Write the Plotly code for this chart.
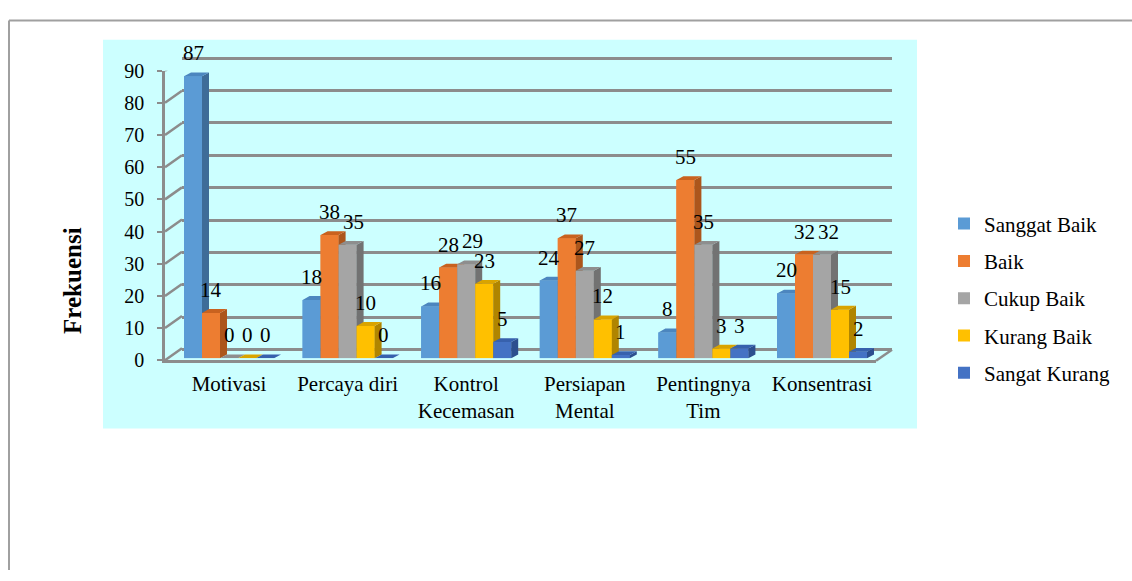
import plotly.graph_objects as go

# ---------------- data ----------------
categories = ["Motivasi", "Percaya diri", "Kontrol<br>Kecemasan", "Persiapan<br>Mental",
              "Pentingnya<br>Tim", "Konsentrasi"]
series_names = ["Sanggat Baik", "Baik", "Cukup Baik", "Kurang Baik", "Sangat Kurang"]
sanggat_baik = [87, 18, 16, 24, 8, 20]
baik = [14, 38, 28, 37, 55, 32]
cukup_baik = [0, 35, 29, 27, 35, 32]
kurang_baik = [0, 10, 23, 12, 3, 15]
sangat_kurang = [0, 0, 5, 1, 3, 2]
y_ticks = [0, 10, 20, 30, 40, 50, 60, 70, 80, 90]
axis_title = "Frekuensi"

series_values = [sanggat_baik, baik, cukup_baik, kurang_baik, sangat_kurang]

# ---------------- style ----------------
front_colors = ["#5B9BD5", "#ED7D31", "#A5A5A5", "#FFC000", "#4472C4"]
side_colors = ["#3E6C98", "#AC561C", "#727272", "#B08500", "#2C4F8E"]
top_colors = ["#4C86BF", "#C9621F", "#8E8E8E", "#D9A400", "#3761AD"]
FONT = "Times New Roman, Liberation Serif, serif"
GRID = "#8C8C8C"

W, H = 1132, 581
def px(x):
    return x / W
def py(y):
    return 1 - y / H

CAT_PX = 118.6           # pixel width of one category on the bar axis
BW = 18 / CAT_PX         # bar width (category units)
DX = 7 / CAT_PX          # depth offset x (category units)
BAR_SCALE = 3.37         # px per unit on bar axis
DY = 4 / BAR_SCALE       # depth offset y (value units)
LABEL_SIZE = 21
DIGIT_W = 0.5 * LABEL_SIZE   # approx digit width in px
LABEL_H = 20                  # approx label height in px

fig = go.Figure()

idx = list(range(len(categories)))

# real bar traces (front faces + legend)
for j, (name, vals) in enumerate(zip(series_names, series_values)):
    fig.add_trace(go.Bar(
        x=idx, y=vals, name=name, width=BW, offset=(j - 2.5) * BW,
        marker=dict(color=front_colors[j], line=dict(width=0)),
        xaxis="x2", yaxis="y2", legendgroup=name,
    ))

# 3D faces drawn in painter's order
for j, (name, vals) in enumerate(zip(series_names, series_values)):
    fx, fy, sx, sy, tx, ty = [], [], [], [], [], []
    for i, v in zip(idx, vals):
        L = i + (j - 2.5) * BW
        R = L + BW
        fx += [L, R, R, L, L, None]
        fy += [0, 0, v, v, 0, None]
        sx += [R, R + DX, R + DX, R, R, None]
        sy += [0, DY, v + DY, v, 0, None]
        tx += [L, R, R + DX, L + DX, L, None]
        ty += [v, v, v + DY, v + DY, v, None]
    for xs, ys, col in ((fx, fy, front_colors[j]), (sx, sy, side_colors[j]), (tx, ty, top_colors[j])):
        fig.add_trace(go.Scatter(
            x=xs, y=ys, mode="lines", fill="toself", fillcolor=col,
            line=dict(width=0, color=col), showlegend=False, hoverinfo="skip",
            xaxis="x2", yaxis="y2",
        ))

# invisible traces so that wall / front subplots exist
fig.add_trace(go.Scatter(x=[None], y=[None], xaxis="x", yaxis="y", showlegend=False))
fig.add_trace(go.Scatter(x=[None], y=[None], xaxis="x3", yaxis="y3", showlegend=False))

# value labels (with simple overlap avoidance inside each group)
annotations = []
for i in idx:
    prev = None  # (center_px_offset, width_px, value)
    for j, vals in enumerate(series_values):
        v = vals[i]
        txt = str(v)
        w = DIGIT_W * len(txt)
        base = j * CAT_PX * BW  # relative pixel position of bar centre within the group
        shift = 0.0
        if prev is not None:
            pc, pw, pv = prev
            if abs((v - pv) * BAR_SCALE) < LABEL_H:
                need = (pw + w) / 2 + 3 - (base - pc)
                if need > 0:
                    shift = need
        prev = (base + shift, w, v)
        annotations.append(dict(
            x=i + (j - 2) * BW, y=v, xref="x2", yref="y2", text=txt,
            showarrow=False, yshift=23, xshift=shift,
            font=dict(family=FONT, size=LABEL_SIZE, color="#000000"),
        ))

annotations.append(dict(
    x=px(57), y=py(280), xref="paper", yref="paper", text="<b>%s</b>" % axis_title,
    textangle=-90, showarrow=False, font=dict(family=FONT, size=25, color="#000000"),
))

shapes = [
    # cyan chart area
    dict(type="rect", xref="paper", yref="paper", x0=px(103), x1=px(917), y0=py(434), y1=py(30),
         fillcolor="#CCFFFF", line=dict(width=0), layer="below"),
    # outer frame
    dict(type="line", xref="paper", yref="paper", x0=px(9), x1=1, y0=py(10), y1=py(10),
         line=dict(color="#A0A0A0", width=2)),
    dict(type="line", xref="paper", yref="paper", x0=px(9), x1=px(9), y0=py(10), y1=0,
         line=dict(color="#A0A0A0", width=2)),
    # floor right edge
    dict(type="line", xref="paper", yref="paper", x0=px(876), x1=px(892), y0=py(363.5), y1=py(352),
         line=dict(color=GRID, width=2.5)),
]
for v in y_ticks:
    shapes.append(dict(
        type="path", xref="paper", xsizemode="pixel", xanchor=px(165),
        yref="y3", ysizemode="pixel", yanchor=v, path="M0,0 L17,12",
        line=dict(color=GRID, width=2.5),
    ))

fig.update_layout(
    width=W, height=H, autosize=False,
    margin=dict(l=0, r=0, t=0, b=0),
    paper_bgcolor="#FFFFFF", plot_bgcolor="rgba(0,0,0,0)",
    barmode="overlay",
    font=dict(family=FONT, size=20, color="#000000"),
    showlegend=True,
    legend=dict(x=px(944), y=py(200), xanchor="left", yanchor="top",
                font=dict(family=FONT, size=21, color="#000000"),
                bgcolor="rgba(0,0,0,0)", tracegroupgap=7, itemclick=False),
    # back wall
    xaxis=dict(domain=[px(182), px(892)], range=[0, 1], showgrid=False, zeroline=False,
               showticklabels=False, showline=False, anchor="y", fixedrange=True),
    yaxis=dict(domain=[py(352 + 0.5 * 3.367), py(49 - 0.5 * 3.367)], range=[-0.5, 90.5],
               tickvals=y_ticks, showgrid=True, gridcolor=GRID, gridwidth=2.5,
               zeroline=False, showticklabels=False, anchor="x", fixedrange=True),
    # bar plane
    xaxis2=dict(domain=[px(229 - CAT_PX / 2), px(229 + 5.5 * CAT_PX)], range=[-0.5, 5.5],
                tickvals=idx, ticktext=categories, showgrid=False, zeroline=False,
                ticks="outside", ticklen=6, tickcolor="rgba(0,0,0,0)",
                tickfont=dict(family=FONT, size=21), anchor="y2", fixedrange=True),
    yaxis2=dict(domain=[py(361), py(361 - 90 * BAR_SCALE)], range=[0, 90], visible=False,
                anchor="x2", fixedrange=True),
    # front plane
    xaxis3=dict(domain=[px(165), px(876)], range=[0, 1], showgrid=False, zeroline=False,
                showticklabels=False, showline=True, linecolor=GRID, linewidth=2.5,
                anchor="y3", fixedrange=True),
    yaxis3=dict(domain=[py(363), py(62)], range=[0, 90], tickvals=y_ticks, showgrid=False,
                zeroline=False, showline=True, linecolor=GRID, linewidth=2.5,
                ticks="outside", ticklen=5, tickwidth=2, tickcolor=GRID,
                ticklabelstandoff=9, tickfont=dict(family=FONT, size=20),
                anchor="x3", fixedrange=True),
    annotations=annotations,
    shapes=shapes,
)

fig.write_html("out.html", config={"displayModeBar": False},
               post_script="document.body.style.margin='0px';")
